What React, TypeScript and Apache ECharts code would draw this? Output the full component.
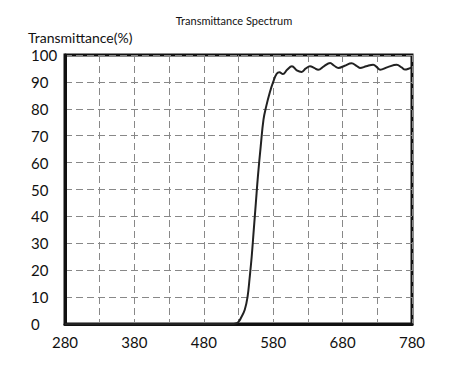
import React, { useEffect, useRef } from "react";
import * as echarts from "echarts";

const wavelengths = [280, 330, 380, 430, 480, 520, 525, 530, 534, 539, 543, 546, 549, 552, 555, 558, 562, 566, 570, 575, 580, 585, 589, 594, 600, 607, 614, 621, 627, 633, 639, 645, 653, 662, 668, 674, 683, 693, 700, 705, 714, 724, 730, 734, 745, 758, 765, 770, 775, 780];
const transmittance = [0, 0, 0, 0, 0, 0, 0.1, 0.8, 2.5, 5.3, 10, 17, 25, 35, 45, 55, 66, 76, 81, 86, 90, 93, 93.6, 92.9, 94.5, 95.8, 94.3, 93.7, 95, 95.8, 95.2, 94.5, 95.8, 97, 96, 95.2, 96, 96.9, 96, 95.2, 95.8, 96.4, 95.3, 94.5, 95.5, 96.4, 95.4, 94.6, 94.9, 95.4];
const xLabelValues = [280, 380, 480, 580, 680, 780];
const titleText = "Transmittance Spectrum";
const yName = "Transmittance(%)";

export default function App() {
  const ref = useRef<HTMLDivElement>(null);
  useEffect(() => {
    if (!ref.current) return;
    const chart = echarts.init(ref.current, undefined, { renderer: "svg" });
    const font = "Lato";
    chart.setOption({
      animation: false,
      backgroundColor: "#fff",
      title: {
        text: titleText,
        left: "center",
        top: 10,
        textStyle: { fontSize: 11, fontWeight: "normal", color: "#111", fontFamily: font },
      },
      graphic: [
        {
          type: "text",
          left: 28,
          top: 30,
          style: { text: yName, fontSize: 14, fill: "#111", fontFamily: font },
        },
      ],
      grid: {
        left: 65,
        right: 56,
        top: 55,
        bottom: 44,
        show: true,
        borderColor: "#111",
        borderWidth: 3,
      },
      xAxis: {
        type: "value",
        min: 280,
        max: 780,
        interval: 50,
        axisLine: { show: true, lineStyle: { color: "#111", width: 3 } },
        axisTick: { show: false },
        axisLabel: {
          fontSize: 15,
          color: "#111",
          fontFamily: font,
          margin: 10,
          formatter: (v: number) => (xLabelValues.includes(v) ? String(v) : ""),
        },
        splitLine: { show: true, lineStyle: { color: "#888", type: [7, 4], width: 1 } },
      },
      yAxis: {
        type: "value",
        min: 0,
        max: 100,
        interval: 10,
        axisLine: { show: true, lineStyle: { color: "#111", width: 3 } },
        axisTick: { show: false },
        axisLabel: {
          fontSize: 15,
          color: "#111",
          fontFamily: font,
          margin: 34,
          align: "left",
        },
        splitLine: { show: true, lineStyle: { color: "#888", type: [7, 4], width: 1 } },
      },
      series: [
        {
          type: "line",
          data: wavelengths.map((w, i) => [w, transmittance[i]]),
          smooth: 0.4,
          showSymbol: false,
          lineStyle: { color: "#222", width: 2 },
        },
      ],
    });
    return () => chart.dispose();
  }, []);
  return (
    <div
      ref={ref}
      style={{ position: "fixed", left: 0, top: 0, width: 468, height: 368 }}
    />
  );
}
